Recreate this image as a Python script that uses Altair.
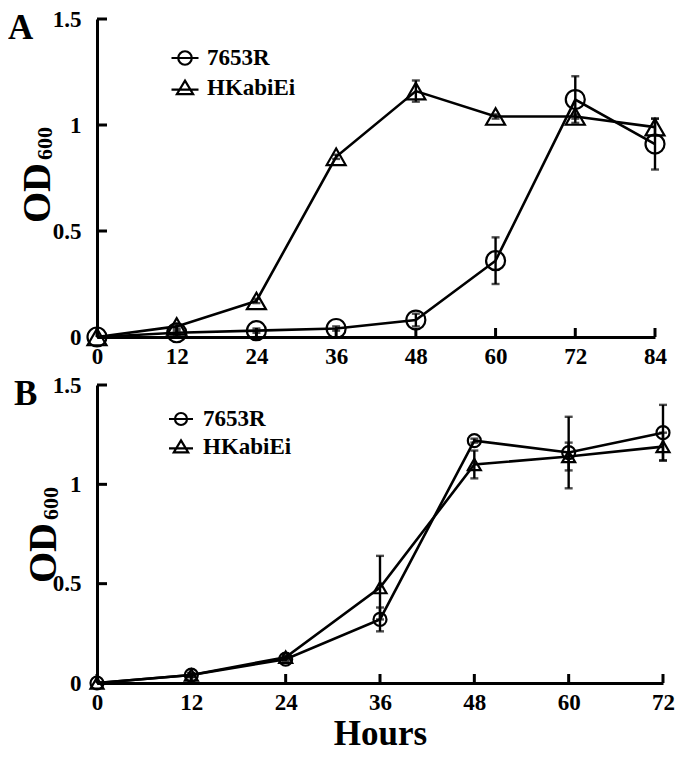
import altair as alt
import pandas as pd

FONT = "Liberation Serif"
series_names = ["7653R", "HKabiEi"]

# Panel A
hours_a = [0, 12, 24, 36, 48, 60, 72, 84]
a_7653r = [0.00, 0.02, 0.03, 0.04, 0.08, 0.36, 1.12, 0.91]
a_7653r_err = [0.0, 0.01, 0.01, 0.01, 0.03, 0.11, 0.11, 0.12]
a_hk = [0.00, 0.05, 0.17, 0.85, 1.16, 1.04, 1.04, 0.99]
a_hk_err = [0.0, 0.01, 0.01, 0.01, 0.05, 0.01, 0.01, 0.04]

# Panel B
hours_b = [0, 12, 24, 36, 48, 60, 72]
b_7653r = [0.00, 0.04, 0.12, 0.32, 1.22, 1.16, 1.26]
b_7653r_err = [0.0, 0.01, 0.01, 0.06, 0.01, 0.18, 0.14]
b_hk = [0.00, 0.04, 0.13, 0.48, 1.10, 1.14, 1.19]
b_hk_err = [0.0, 0.01, 0.01, 0.16, 0.07, 0.07, 0.07]

y_ticks = [0, 0.5, 1, 1.5]

LEG_CIRCLE = "M-1,0L1,0M0.5,0A0.5,0.5,0,1,1,-0.5,0A0.5,0.5,0,1,1,0.5,0Z"
LEG_TRI = "M-1,0.12L1,0.12M0,-0.55L0.6,0.45L-0.6,0.45Z"
LEG_SHAPES = [LEG_CIRCLE, LEG_TRI]


def panel(hours, v1, e1, v2, e2, xmax, W, H, letter, letter_x, letter_y,
          od_x, od_start, msize, leg_x, leg_ys, leg_text_x, leg_size, xtitle):
    rows = []
    for name, vals, errs in [(series_names[0], v1, e1), (series_names[1], v2, e2)]:
        for h, v, e in zip(hours, vals, errs):
            rows.append({"hours": h, "od": v, "err": e, "series": name,
                         "lo": v - e, "hi": v + e})
    df = pd.DataFrame(rows)
    edf = df[df["err"] > 0]

    xaxis_kw = dict(values=hours, ticks=False, grid=False, domainColor="black",
                    domainWidth=3, labelFont=FONT, labelFontSize=23,
                    labelFontWeight="bold", labelColor="black", labelPadding=8,
                    labelOverlap=False, labelFlush=False)
    if xtitle:
        xaxis = alt.Axis(title=xtitle, titleFont=FONT, titleFontSize=35,
                         titleFontWeight="bold", titleColor="black",
                         titlePadding=2, **xaxis_kw)
    else:
        xaxis = alt.Axis(title=None, **xaxis_kw)
    xs = alt.Scale(domain=[0, xmax], nice=False)
    ys = alt.Scale(domain=[0, 1.5], nice=False)
    X = alt.X("hours:Q", scale=xs, axis=xaxis)
    Y = alt.Y("od:Q", scale=ys,
              axis=alt.Axis(values=y_ticks, format=".1~f", ticks=False, grid=False,
                            domainColor="black", domainWidth=3, labelFont=FONT,
                            labelFontSize=23, labelFontWeight="bold",
                            labelColor="black", labelPadding=16, title=None,
                            labelOverlap=False))

    base = alt.Chart(df)
    line = base.mark_line(color="black", strokeWidth=2.6, clip=False).encode(
        x=X, y=Y, detail="series:N")
    ebar = alt.Chart(edf).mark_rule(color="black", strokeWidth=2.4).encode(
        x="hours:Q", y="lo:Q", y2="hi:Q")
    cap_lo = alt.Chart(edf).mark_tick(color="black", orient="horizontal", size=8,
                                      thickness=2.4).encode(x="hours:Q", y=alt.Y("lo:Q"))
    cap_hi = alt.Chart(edf).mark_tick(color="black", orient="horizontal", size=8,
                                      thickness=2.4).encode(x="hours:Q", y=alt.Y("hi:Q"))
    pts = base.mark_point(filled=False, color="black", strokeWidth=2.2, size=msize,
                          opacity=1, clip=False).encode(
        x="hours:Q", y="od:Q",
        shape=alt.Shape("series:N",
                        scale=alt.Scale(domain=series_names,
                                        range=["circle", "triangle-up"]),
                        legend=None))
    ytk = alt.Chart(pd.DataFrame({"od": y_ticks})).mark_rule(
        color="black", strokeWidth=3).encode(y="od:Q", x=alt.value(0), x2=alt.value(10))
    xtk = alt.Chart(pd.DataFrame({"hours": hours})).mark_rule(
        color="black", strokeWidth=3).encode(x="hours:Q", y=alt.value(H), y2=alt.value(H - 9))

    layers = [line, ebar, cap_lo, cap_hi, pts, ytk, xtk]
    for i, name in enumerate(series_names):
        ld = pd.DataFrame({"label": [name]})
        layers.append(alt.Chart(ld).mark_point(
            shape=LEG_SHAPES[i], size=leg_size, filled=False, color="black",
            strokeWidth=2.2, opacity=1).encode(x=alt.value(leg_x), y=alt.value(leg_ys[i])))
        layers.append(alt.Chart(ld).mark_text(
            align="left", baseline="middle", font=FONT, fontSize=23,
            fontWeight="bold", color="black").encode(
            x=alt.value(leg_text_x), y=alt.value(leg_ys[i]), text="label:N"))

    layers.append(alt.Chart(pd.DataFrame({"t": [letter]})).mark_text(
        align="left", baseline="alphabetic", font=FONT, fontSize=35,
        fontWeight="bold", color="black").encode(
        x=alt.value(letter_x), y=alt.value(letter_y), text="t:N"))
    layers.append(alt.Chart(pd.DataFrame({"t": ["OD"]})).mark_text(
        align="left", baseline="alphabetic", angle=270, font=FONT, fontSize=40,
        fontWeight="bold", color="black").encode(
        x=alt.value(od_x), y=alt.value(od_start), text="t:N"))
    layers.append(alt.Chart(pd.DataFrame({"t": ["600"]})).mark_text(
        align="left", baseline="alphabetic", angle=270, font=FONT, fontSize=22,
        fontWeight="bold", color="black").encode(
        x=alt.value(od_x + 2), y=alt.value(od_start - 63), text="t:N"))

    return alt.layer(*layers).properties(width=W, height=H)


HA = 318
HB = 298
pa = panel(hours_a, a_7653r, a_7653r_err, a_hk, a_hk_err, 84, 558, HA,
           "A", -89, 20, -47, HA / 2 + 45, 361, 88, [39, 69], 110, 729, None)
pb = panel(hours_b, b_7653r, b_7653r_err, b_hk, b_hk_err, 72, 566, HB,
           "B", -83, 20, -41, HB / 2 + 49, 169, 84, [34, 62], 106, 576, "Hours")

chart = alt.concat(pa, pb, columns=1, spacing=6, align="none").properties(
    padding={"left": 0, "top": 0, "right": 0, "bottom": 0},
    background="white",
).configure_view(stroke=None)

chart.save("out.html", embed_options={"renderer": "svg", "actions": False})
